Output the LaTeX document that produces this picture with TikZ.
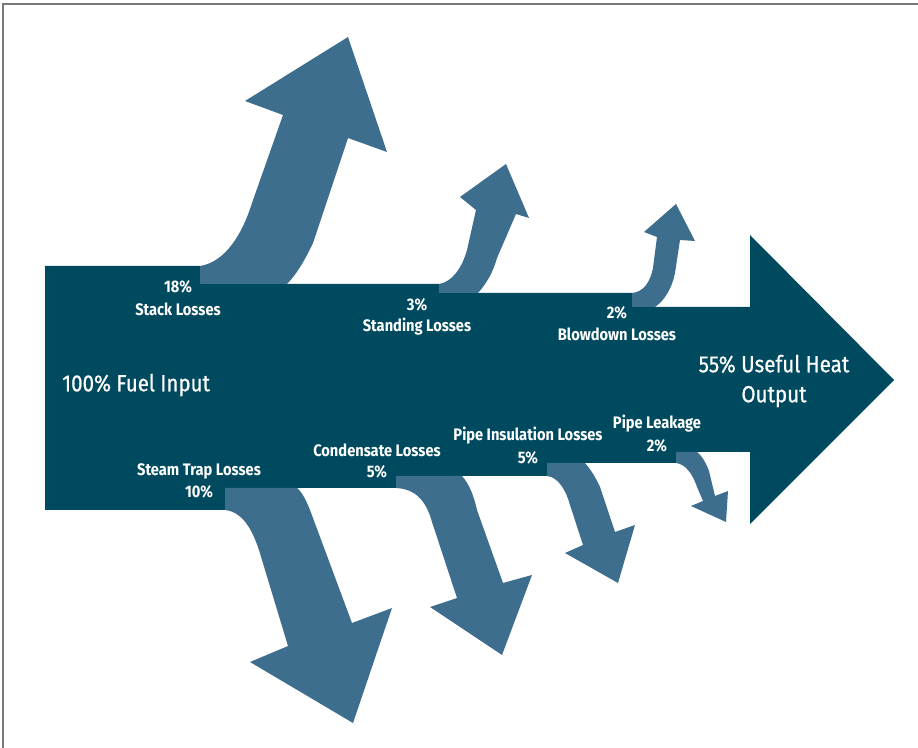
\documentclass[tikz,border=0pt]{standalone}
\usepackage{fontspec}
\setmainfont{Fira Sans}[FakeStretch=0.88]
\newfontfamily\bigfont{Fira Sans}[FakeStretch=0.88, FakeBold=0.6]
\definecolor{maindark}{RGB}{0,74,95}
\definecolor{lossblue}{RGB}{62,110,142}
\definecolor{framegray}{RGB}{120,120,120}
\tikzset{
  mainbody/.style={fill=maindark, draw=none},
  lossarrow/.style={fill=lossblue, draw=none},
  lab/.style={text=white, font=\fontsize{12.5}{14.5}\selectfont\bfseries, align=center, inner sep=0pt},
  biglab/.style={text=white, font=\bigfont\fontsize{17.5}{22.5}\selectfont, align=center, inner sep=0pt},
}
\begin{document}
\begin{tikzpicture}[x=0.75pt,y=-0.75pt]
\useasboundingbox (0,0) rectangle (918,748);
\fill[white] (0,0) rectangle (918,748);
\draw[framegray, line width=1.5pt] (3,748) -- (3,4) -- (918,4);

% main body
\path[mainbody] (45,266) -- (200,266) -- (200,284) -- (439,284) -- (439,293) -- (632,293) -- (632,307)
  -- (750,307) -- (750,235) -- (894,380) -- (750,524) -- (750,452) -- (676,452) -- (676,463)
  -- (547,463) -- (547,476) -- (396,476) -- (396,488) -- (225,488) -- (225,510) -- (45,510) -- cycle;

% stack losses
\path[lossarrow] (200,266) -- (200,284) -- (287,284) .. controls (297,274) and (306,258) .. (313,243)
  -- (348,138) -- (387,152) -- (348,37) -- (245,101) -- (283,115) -- (252,203)
  .. controls (242,235) and (225,262) .. (200,266) -- cycle;
% standing losses
\path[lossarrow] (439,284) -- (439,293) -- (478,293) .. controls (487,283) and (493,272) .. (497,258)
  -- (516,214) -- (529,218) -- (506,164) -- (460,197) -- (476,210) -- (467,250)
  .. controls (462,268) and (452,282) .. (439,284) -- cycle;
% blowdown losses
\path[lossarrow] (632,293) -- (632,307) -- (655,307) .. controls (665,300) and (672,288) .. (675,273)
  -- (680,240) -- (695,241) -- (676,204) -- (644,232) -- (657,237) -- (653,268)
  .. controls (650,283) and (643,292) .. (632,293) -- cycle;
% steam trap losses
\path[lossarrow] (225,488) -- (297,488) .. controls (302,492) and (306,500) .. (310,510)
  -- (352,623) -- (392,608) -- (353,723) -- (250,662) -- (288,646) -- (262,560)
  .. controls (255,535) and (245,512) .. (225,510) -- cycle;
% condensate losses
\path[lossarrow] (396,476) -- (462,476) .. controls (470,485) and (474,497) .. (477,510)
  -- (503,583) -- (532,575) -- (502,655) -- (430,607) -- (457,598) -- (432,522)
  .. controls (426,500) and (415,489) .. (396,488) -- cycle;
% pipe insulation losses
\path[lossarrow] (547,463) -- (585,463) .. controls (591,470) and (596,478) .. (600,487)
  -- (615,532) -- (635,525) -- (618,583) -- (565,553) -- (583,545) -- (570,505)
  .. controls (566,490) and (558,477) .. (547,476) -- cycle;
% pipe leakage
\path[lossarrow] (676,452) -- (697,452) .. controls (702,456) and (706,463) .. (709,471)
  -- (715,496) -- (728,491) -- (726,522) -- (691,506) -- (703,501) -- (697,487)
  .. controls (693,475) and (686,464) .. (676,463) -- cycle;

% labels
\node[lab] (stackp) at (178,287) {18\%};
\node[lab] (stackl) at (178,309) {Stack Losses};
\node[lab] (standp) at (417,305) {3\%};
\node[lab] (standl) at (417,327) {Standing Losses};
\node[lab] (blowp) at (617,313) {2\%};
\node[lab] (blowl) at (617,334) {Blowdown Losses};
\node[lab] (trapl) at (199,471) {Steam Trap Losses};
\node[lab] (trapp) at (199,492) {10\%};
\node[lab] (condl) at (377,450) {Condensate Losses};
\node[lab] (condp) at (377,472) {5\%};
\node[lab] (insl) at (528,436) {Pipe Insulation Losses};
\node[lab] (insp) at (528,458) {5\%};
\node[lab] (leakl) at (657,424) {Pipe Leakage};
\node[lab] (leakp) at (657,446) {2\%};
\node[biglab, anchor=west] (fuel) at (62,385) {100\% Fuel Input};
\node[biglab] (useful) at (774,381) {55\% Useful Heat\\Output};
\end{tikzpicture}
\end{document}
